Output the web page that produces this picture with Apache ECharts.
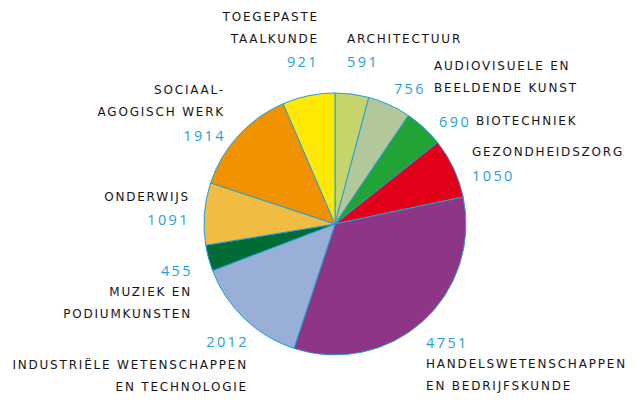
<!DOCTYPE html>
<html>
<head>
<meta charset="utf-8">
<script src="https://cdn.jsdelivr.net/npm/echarts@6/dist/echarts.min.js"></script>
<style>
  html, body { margin: 0; padding: 0; background: #fff; }
  #main { width: 636px; height: 406px; }
  /* wide tracking like the original typeface */
  #main text { letter-spacing: 1.8px; }
  #main text[fill="#1e9fdb"] { letter-spacing: 2.4px; }
</style>
</head>
<body>
<div id="main"></div>
<script>
// studierichtingen, clockwise from 12 o'clock
const categories = [
    'ARCHITECTUUR',
    'AUDIOVISUELE EN\nBEELDENDE KUNST',
    'BIOTECHNIEK',
    'GEZONDHEIDSZORG',
    'HANDELSWETENSCHAPPEN\nEN BEDRIJFSKUNDE',
    'INDUSTRIËLE WETENSCHAPPEN\nEN TECHNOLOGIE',
    'MUZIEK EN\nPODIUMKUNSTEN',
    'ONDERWIJS',
    'SOCIAAL-\nAGOGISCH WERK',
    'TOEGEPASTE\nTAALKUNDE'
];
const values = [591, 756, 690, 1050, 4751, 2012, 455, 1091, 1914, 921];

const colors = ['#c6d56b', '#b2c89a', '#21a335', '#e2001a', '#8e3586',
                '#9aafd8', '#006b35', '#f0bc42', '#f09200', '#ffe900'];

// label anchors [x, y, align] - y is the centre of the text block
const nameSpots = [
    [347, 39, 'left'], [434, 77, 'left'], [476, 121, 'left'], [472, 152, 'left'],
    [426, 375, 'left'], [248, 376, 'right'], [192, 303, 'right'], [190, 197, 'right'],
    [225, 101, 'right'], [319, 28, 'right']
];
const valueSpots = [
    [347, 61, 'left'], [426, 88, 'right'], [439, 121, 'left'], [472, 175, 'left'],
    [426, 342, 'left'], [249, 341, 'right'], [193, 270, 'right'], [190, 219, 'right'],
    [226, 135, 'right'], [319, 61, 'right']
];

const pieData = categories.map((c, i) => ({
    name: c,
    value: values[i],
    itemStyle: { color: colors[i] }
}));

const chart = echarts.init(document.getElementById('main'), null, { renderer: 'svg' });

const placeBy = spots => params => {
    const s = spots[params.dataIndex];
    return { x: s[0], y: s[1], align: s[2], verticalAlign: 'middle' };
};

chart.setOption({
    animation: false,
    series: [
        {
            type: 'pie',
            center: [335, 224],
            radius: 131,
            startAngle: 90,
            clockwise: true,
            avoidLabelOverlap: false,
            itemStyle: { borderColor: '#1ea0db', borderWidth: 1 },
            label: {
                show: true,
                formatter: '{b}',
                fontFamily: 'DejaVu Sans',
                fontSize: 12,
                color: '#161616',
                lineHeight: 22
            },
            labelLine: { show: false },
            labelLayout: placeBy(nameSpots),
            emphasis: { disabled: true },
            data: pieData
        },
        {
            // same slices again, invisible, only to carry the blue numbers
            type: 'pie',
            center: [335, 224],
            radius: 131,
            startAngle: 90,
            clockwise: true,
            silent: true,
            avoidLabelOverlap: false,
            itemStyle: { color: 'transparent', borderWidth: 0 },
            label: {
                show: true,
                formatter: '{c}',
                fontFamily: 'Open Sans',
                fontSize: 14.5,
                color: '#1e9fdb'
            },
            labelLine: { show: false },
            labelLayout: placeBy(valueSpots),
            emphasis: { disabled: true },
            data: values.map((v, i) => ({ name: categories[i], value: v }))
        }
    ]
});
</script>
</body>
</html>
